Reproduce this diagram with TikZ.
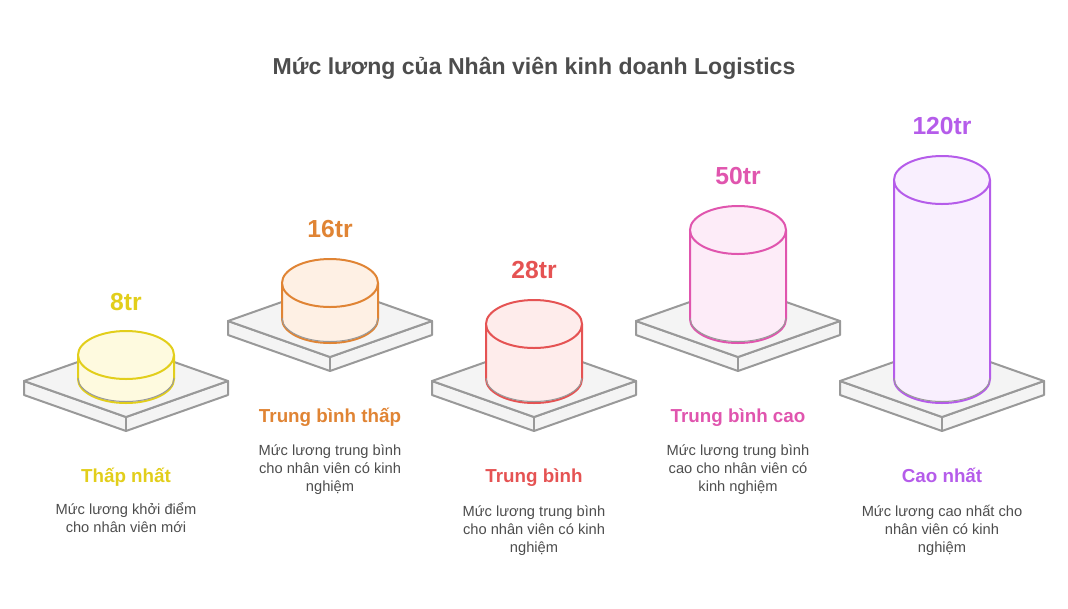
\documentclass[tikz,border=0pt]{standalone}
\usepackage{fontspec}
\setmainfont{Liberation Sans}
\usepackage{color}
\definecolor{inkgray}{HTML}{4D4D4D}
\definecolor{platestroke}{HTML}{999999}
\definecolor{platefill}{HTML}{F4F4F4}
\definecolor{yellowline}{HTML}{E2CE1B}
\definecolor{yellowfill}{HTML}{FEFADF}
\definecolor{orangeline}{HTML}{E08434}
\definecolor{orangefill}{HTML}{FEF0E4}
\definecolor{redline}{HTML}{E55353}
\definecolor{redfill}{HTML}{FEECEB}
\definecolor{pinkline}{HTML}{E055AE}
\definecolor{pinkfill}{HTML}{FDECF8}
\definecolor{purpleline}{HTML}{B55CEA}
\definecolor{purplefill}{HTML}{F9EFFE}
\tikzset{
  plate/.style={draw=platestroke, fill=platefill, line width=1.5pt, line join=round},
  titletext/.style={anchor=base, text=inkgray, font=\bfseries\fontsize{17.3}{22}\selectfont},
  valuetext/.style={anchor=base, font=\bfseries\fontsize{18.5}{22}\selectfont},
  labeltext/.style={anchor=base, font=\bfseries\fontsize{14.1}{16}\selectfont},
  desctext/.style={text=inkgray, align=center, font=\fontsize{11}{13.5}\selectfont},
}
% platform: centre x, y of left and right corners
\newcommand{\platform}[2]{
  \draw[plate] (#1-102,#2) -- (#1,#2+36) -- (#1+102,#2) -- (#1+102,#2+14) -- (#1,#2+50) -- (#1-102,#2+14) -- cycle;
  \draw[plate] (#1-102,#2) -- (#1,#2-36) -- (#1+102,#2) -- (#1,#2+36) -- cycle;
  \draw[plate] (#1,#2+36) -- (#1,#2+50);
}
% cylinder: centre x, y of top ellipse, y of bottom ellipse, line and fill colours
\newcommand{\cylinder}[5]{
  \draw[#4, fill=#5, line width=1.5pt] (#1-48,#2) -- (#1-48,#3) arc[start angle=180, end angle=0, x radius=48, y radius=24] -- (#1+48,#2);
  \draw[platestroke, line width=.75pt] (#1-48,#3-1) arc[start angle=180, end angle=0, x radius=48, y radius=23.5];
  \draw[#4, fill=#5, line width=1.5pt] (#1,#2) ellipse[x radius=48, y radius=24];
}
\begin{document}
\begin{tikzpicture}[x=.75pt,y=-.75pt]
\useasboundingbox (0,0) rectangle (1068,608);
\node[titletext] (title) at (534,74) {Mức lương của Nhân viên kinh doanh Logistics};
%% first
\platform{126}{381}
\cylinder{126}{355}{379}{yellowline}{yellowfill}
\node[valuetext, text=yellowline] (value1) at (126,310) {8tr};
\node[labeltext, text=yellowline] (label1) at (126,482) {Thấp nhất};
\node[desctext] (desc1) at (126,518) {Mức lương khởi điểm\\cho nhân viên mới};
%% second
\platform{330}{321}
\cylinder{330}{283}{319}{orangeline}{orangefill}
\node[valuetext, text=orangeline] (value2) at (330,237) {16tr};
\node[labeltext, text=orangeline] (label2) at (330,422) {Trung bình thấp};
\node[desctext] (desc2) at (330,470) {Mức lương trung bình\\cho nhân viên có kinh\\nghiệm};
%% third
\platform{534}{381}
\cylinder{534}{324}{379}{redline}{redfill}
\node[valuetext, text=redline] (value3) at (534,278) {28tr};
\node[labeltext, text=redline] (label3) at (534,482) {Trung bình};
\node[desctext] (desc3) at (534,531) {Mức lương trung bình\\cho nhân viên có kinh\\nghiệm};
%% fourth
\platform{738}{321}
\cylinder{738}{230}{319}{pinkline}{pinkfill}
\node[valuetext, text=pinkline] (value4) at (738,184) {50tr};
\node[labeltext, text=pinkline] (label4) at (738,422) {Trung bình cao};
\node[desctext] (desc4) at (738,470) {Mức lương trung bình\\cao cho nhân viên có\\kinh nghiệm};
%% fifth
\platform{942}{381}
\cylinder{942}{180}{379}{purpleline}{purplefill}
\node[valuetext, text=purpleline] (value5) at (942,134) {120tr};
\node[labeltext, text=purpleline] (label5) at (942,482) {Cao nhất};
\node[desctext] (desc5) at (942,530) {Mức lương cao nhất cho\\nhân viên có kinh\\nghiệm};
\end{tikzpicture}
\end{document}
